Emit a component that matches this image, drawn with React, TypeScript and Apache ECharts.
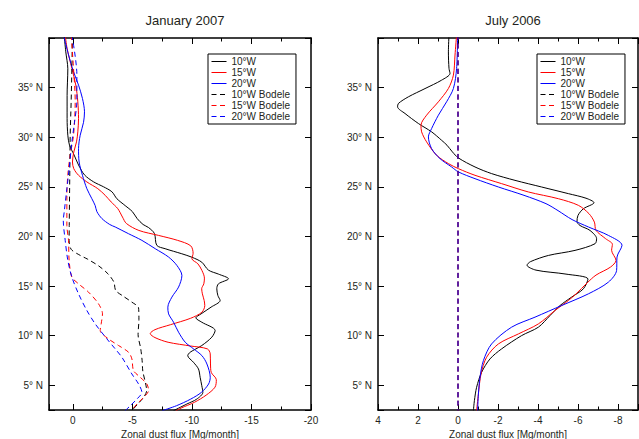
import React, { useEffect, useRef } from "react";
import * as echarts from "echarts";

// ---- Data: [latitude (°N), zonal dust flux (Mg/month)] ----
const seriesNames = ["10°W", "15°W", "20°W", "10°W Bodele", "15°W Bodele", "20°W Bodele"];
const panelTitles = ["January 2007", "July 2006"];
const latTicks = [5, 10, 15, 20, 25, 30, 35];

const jan10W: number[][] = [
  [40.3, 0.73], [38.6, 0.59], [36.9, 0.42], [34.2, 0.48], [31.9, 0.48], [30.2, 0.42], [29.2, 0.28],
  [28.2, -0.11], [27.2, -0.48], [26.2, -0.98], [25.5, -1.74], [25.0, -2.58], [24.5, -3.28], [23.8, -3.7],
  [23.1, -4.4], [22.5, -5.0], [21.8, -5.4], [21.2, -5.9], [20.9, -6.35], [20.3, -6.85], [19.1, -7.05],
  [18.76, -7.75], [18.25, -9.15], [17.9, -10.0], [17.4, -10.83], [16.6, -11.39], [16.2, -12.23],
  [15.73, -13.07], [15.22, -12.23], [14.72, -12.09], [14.04, -12.18], [13.54, -12.37], [12.87, -11.61],
  [12.19, -10.77], [11.79, -10.33], [11.35, -10.83], [10.51, -11.95], [9.84, -11.67], [9.0, -10.83],
  [8.32, -9.85], [7.98, -9.65], [7.31, -10.13], [6.64, -10.55], [5.8, -10.69], [4.95, -10.83],
  [4.28, -10.92], [3.6, -10.41], [3.1, -9.57], [2.43, -8.45],
];
const jan15W: number[][] = [
  [40.3, 0.64], [38.95, 0.48], [36.93, 0.08], [35.25, -0.25], [33.57, -0.42], [31.88, -0.48], [30.54, -0.42],
  [29.53, -0.31], [28.5, -0.08], [27.5, 0.03], [26.83, -0.08], [26.16, -0.48], [25.49, -1.18], [24.81, -2.1],
  [24.14, -2.72], [23.47, -3.22], [22.79, -3.78], [21.95, -4.17], [21.3, -4.5], [20.6, -5.55],
  [20.1, -7.2], [19.6, -8.8], [19.05, -9.9], [18.3, -10.1], [17.75, -10.0], [17.24, -10.5], [16.57, -10.84],
  [15.8, -11.05], [15.22, -11.0], [14.72, -10.82], [14.21, -10.88], [13.54, -11.03], [13.03, -11.08],
  [12.36, -10.84], [11.75, -9.9], [11.1, -8.2], [10.6, -6.9], [10.2, -6.5], [9.8, -6.9], [9.33, -8.0],
  [8.95, -9.9], [8.66, -11.3], [8.15, -11.54], [7.14, -11.56], [6.3, -11.62], [5.55, -12.05], [4.8, -11.94],
  [4.0, -11.2], [3.27, -10.2], [2.7, -9.1], [2.36, -8.6],
];
const jan20W: number[][] = [
  [40.3, 0.78], [38.3, 0.36], [36.6, -0.06], [35.25, -0.48], [33.9, -0.81], [32.56, -0.98], [31.5, -0.9],
  [30.2, -0.62], [28.85, -0.48], [27.5, -0.53], [26.16, -0.81], [24.81, -1.18], [23.8, -1.6], [23.1, -1.88],
  [22.5, -2.02], [21.8, -2.44], [21.2, -3.1], [20.95, -3.56], [20.27, -4.68], [19.6, -5.8], [18.76, -6.92],
  [17.92, -8.04], [17.07, -8.74], [16.06, -9.16], [14.89, -8.88], [13.88, -8.32], [12.87, -7.98],
  [12.19, -8.04], [11.35, -8.46], [10.34, -8.88], [9.33, -9.44], [8.66, -10.14], [7.98, -10.84],
  [7.14, -11.26], [5.8, -11.54], [5.12, -11.4], [4.28, -10.8], [3.6, -9.9], [2.93, -8.7], [2.43, -7.5],
];
const jan10WBodele: number[][] = [
  [40.3, 0.03], [36.9, 0.08], [33.6, 0.14], [30.2, 0.22], [26.8, 0.25], [23.5, 0.28], [21.1, 0.3],
  [19.6, 0.31], [18.7, 0.14], [18.1, -0.6], [17.7, -1.25], [17.0, -2.2], [16.23, -2.95], [15.39, -3.45],
  [14.55, -3.6], [14.0, -4.2], [13.37, -4.96], [12.8, -5.52], [11.6, -5.55], [10.1, -5.48], [8.7, -5.7],
  [7.48, -5.82], [6.4, -5.88], [5.12, -6.12], [4.45, -6.2], [3.77, -5.94], [3.1, -5.45], [2.43, -4.95],
];
const jan15WBodele: number[][] = [
  [40.3, 0.14], [36.9, -0.06], [33.6, -0.2], [30.2, -0.06], [28.2, 0.22], [26.2, 0.42], [24.1, 0.5],
  [21.1, 0.5], [19.6, 0.36], [17.58, 0.31], [15.9, 0.08], [15.22, -0.48], [14.38, -1.32], [13.2, -2.16],
  [12.19, -2.49], [11.18, -2.38], [10.51, -2.3], [9.67, -2.99], [9.0, -3.84], [8.32, -4.68], [7.65, -4.96],
  [6.47, -5.1], [5.8, -5.66], [5.12, -6.22], [4.45, -6.36], [3.94, -6.08], [3.27, -5.52], [2.6, -5.01],
];
const jan20WBodele: number[][] = [
  [40.3, 0.08], [36.3, -0.34], [33.6, -0.34], [31.5, -0.14], [29.5, 0.08], [26.8, 0.31], [24.8, 0.5],
  [22.5, 0.72], [21.62, 0.8], [19.6, 0.64], [17.58, 0.42], [15.9, 0.08], [14.21, -0.48], [12.53, -1.18],
  [11.18, -1.88], [9.67, -2.86], [8.66, -3.56], [7.82, -4.12], [6.13, -4.96], [5.12, -5.52], [4.28, -5.8],
  [3.6, -5.38], [2.93, -4.82], [2.43, -4.4],
];

const jul10W: number[][] = [
  [40.3, 0.45], [38.6, 0.48], [36.93, 0.45], [36.43, 0.4], [35.75, 0.82], [34.9, 1.65], [34.07, 2.48],
  [33.4, 2.98], [33.06, 3.02], [32.39, 2.65], [31.38, 1.98], [30.54, 1.32], [29.69, 0.82], [29.19, 0.55],
  [28.52, 0.28], [27.91, -0.02], [27.0, -0.85], [26.33, -1.68], [25.65, -2.85], [24.98, -4.18],
  [24.31, -5.52], [23.85, -6.4], [23.4, -6.8], [22.79, -6.27], [22.12, -6.0], [21.5, -5.95], [21.1, -6.1],
  [20.6, -6.6], [19.77, -6.93], [19.26, -6.85], [18.59, -5.85], [18.08, -4.52], [17.45, -3.62],
  [17.1, -3.45], [16.6, -3.9], [16.2, -5.4], [15.7, -6.5], [14.72, -6.27], [13.88, -5.68], [13.03, -5.1],
  [12.02, -4.6], [10.85, -4.02], [10.0, -3.18], [8.66, -2.18], [7.65, -1.6], [6.3, -1.18], [4.79, -0.93],
  [3.44, -0.82], [2.43, -0.77],
];
const jul15W: number[][] = [
  [40.3, 0.07], [38.28, 0.15], [36.26, 0.23], [34.91, 0.48], [33.57, 0.98], [32.22, 1.57], [31.21, 1.85],
  [30.54, 1.82], [29.53, 1.57], [28.18, 1.07], [27.34, 0.48], [26.83, -0.02], [26.16, -0.85], [25.32, -2.18],
  [24.48, -3.52], [23.8, -5.02], [23.13, -6.02], [22.29, -6.55], [21.44, -6.82], [20.61, -6.9],
  [19.77, -7.38], [19.2, -7.72], [18.6, -7.68], [17.58, -7.9], [16.9, -7.62], [16.1, -6.9], [15.3, -6.45],
  [14.2, -5.9], [13.54, -5.52], [12.53, -4.85], [11.18, -4.02], [10.17, -3.02], [9.16, -2.02],
  [7.82, -1.43], [6.13, -1.15], [4.11, -1.02], [2.43, -0.93],
];
const jul20W: number[][] = [
  [40.3, 0.02], [36.93, 0.07], [34.91, 0.23], [33.57, 0.57], [32.22, 0.98], [30.87, 1.32], [30.03, 1.48],
  [28.85, 1.32], [27.84, 0.9], [27.0, 0.32], [26.5, -0.02], [25.82, -0.85], [24.98, -2.02], [24.14, -3.3],
  [23.3, -4.4], [22.6, -5.0], [21.7, -5.7], [20.95, -6.52], [20.1, -7.52], [19.1, -8.2], [17.92, -7.95],
  [16.57, -7.93], [15.39, -7.52], [14.21, -6.52], [13.03, -5.18], [11.86, -3.85], [10.85, -2.68],
  [9.16, -1.68], [7.48, -1.27], [5.8, -1.1], [4.11, -1.02], [2.43, -0.98],
];
const jul10WBodele: number[][] = [[40.3, 0], [30, 0], [20, 0], [10, 0], [2.4, 0]];
const jul15WBodele: number[][] = [[40.3, 0], [30, 0], [20, 0], [10, 0], [2.4, 0]];
const jul20WBodele: number[][] = [[40.3, 0], [30, 0], [20, 0], [10, 0], [2.4, 0]];

const janSeries = [jan10W, jan15W, jan20W, jan10WBodele, jan15WBodele, jan20WBodele];
const julSeries = [jul10W, jul15W, jul20W, jul10WBodele, jul15WBodele, jul20WBodele];
const seriesColors = ["#000000", "#ff0000", "#0000ff", "#000000", "#ff0000", "#0000ff"];
const seriesDashed = [false, false, false, true, true, true];

const TEXT = "#231f20";
const FONT = "Liberation Sans";

function makeSeries(data: number[][][], xi: number, yi: number) {
  return data.map((pts, i) => ({
    type: "line",
    name: seriesNames[i],
    xAxisIndex: xi,
    yAxisIndex: yi,
    data: pts.map(([lat, v]) => [v, lat]),
    symbol: "none",
    smooth: 0.3,
    clip: true,
    silent: true,
    lineStyle: { color: seriesColors[i], width: 1, type: seriesDashed[i] ? [5, 3.5] : "solid" },
    itemStyle: { color: seriesColors[i] },
    emphasis: { disabled: true },
  }));
}

const axisLineStyle = { show: true, onZero: false, lineStyle: { color: "#000", width: 1.5 } };

function xAxes(grid: number, min: number, max: number, opts: any) {
  const { labelStep, ...rest } = opts;
  const base = {
    type: "value",
    gridIndex: grid,
    min,
    max,
    inverse: true,
    axisLine: axisLineStyle,
    splitLine: { show: false },
    axisTick: { show: true, inside: true, length: 6, lineStyle: { color: "#000", width: 1 } },
    minorTick: { show: true, splitNumber: 2, length: 3.5, lineStyle: { color: "#000", width: 1 } },
    minorSplitLine: { show: false },
    ...rest,
  };
  return [
    {
      ...base,
      position: "bottom",
      name: "Zonal dust flux [Mg/month]",
      nameLocation: "middle",
      nameGap: 15,
      nameTextStyle: { fontSize: 10, color: TEXT, fontFamily: FONT },
      axisLabel: {
        show: true,
        margin: 5,
        fontSize: 10,
        color: TEXT,
        fontFamily: FONT,
        formatter: (v: number) => (Math.abs(v % labelStep) < 1e-9 ? String(v) : ""),
      },
    },
    { ...base, position: "top", axisLabel: { show: false } },
  ];
}

function yAxes(grid: number) {
  const base = {
    type: "value",
    gridIndex: grid,
    min: 2.5,
    max: 40,
    splitNumber: 8,
    axisLine: axisLineStyle,
    splitLine: { show: false },
    axisTick: { show: true, inside: true, length: 6, lineStyle: { color: "#000", width: 1 } },
  };
  return [
    {
      ...base,
      position: "left",
      axisLabel: {
        show: true,
        margin: 6,
        fontSize: 10,
        color: TEXT,
        fontFamily: FONT,
        formatter: (v: number) => (latTicks.indexOf(v) >= 0 ? `${v}° N` : ""),
      },
    },
    { ...base, position: "right", axisLabel: { show: false } },
  ];
}

function legendFor(left: number) {
  return {
    show: true,
    orient: "vertical",
    left,
    top: 54,
    data: seriesNames,
    selectedMode: false,
    itemWidth: 15,
    itemHeight: 11,
    itemGap: 0,
    padding: [2, 6, 2, 3],
    borderColor: "#000",
    borderWidth: 1,
    backgroundColor: "#fff",
    itemStyle: { opacity: 0, borderWidth: 0 },
    lineStyle: { width: 1 },
    textStyle: { fontSize: 10, lineHeight: 11, color: TEXT, fontFamily: FONT },
  };
}

export default function App() {
  const ref = useRef<HTMLDivElement>(null);
  useEffect(() => {
    if (!ref.current) return;
    const chart = echarts.init(ref.current, undefined, { renderer: "svg" });
    const option: any = {
      animation: false,
      backgroundColor: "#fff",
      textStyle: { fontFamily: FONT },
      title: [
        { text: panelTitles[0], left: 180, top: 9, textAlign: "center", textStyle: { fontSize: 13, fontWeight: "normal", color: TEXT, fontFamily: FONT } },
        { text: panelTitles[1], left: 508, top: 9, textAlign: "center", textStyle: { fontSize: 13, fontWeight: "normal", color: TEXT, fontFamily: FONT } },
      ],
      legend: [legendFor(208), legendFor(537)],
      grid: [
        { left: 49, top: 38, width: 262, height: 372, containLabel: false, outerBoundsMode: "none" },
        { left: 378, top: 38, width: 260, height: 372, containLabel: false, outerBoundsMode: "none" },
      ],
      xAxis: [
        ...xAxes(0, -20, 2, { interval: 5, labelStep: 5 }),
        ...xAxes(1, -9, 4, { splitNumber: 7, labelStep: 2 }),
      ],
      yAxis: [...yAxes(0), ...yAxes(1)],
      series: [...makeSeries(janSeries, 0, 0), ...makeSeries(julSeries, 2, 2)],
    };
    chart.setOption(option);
    return () => chart.dispose();
  }, []);
  return (
    <div
      ref={ref}
      style={{ position: "fixed", left: 0, top: 0, width: 639, height: 439, background: "#fff" }}
    />
  );
}
